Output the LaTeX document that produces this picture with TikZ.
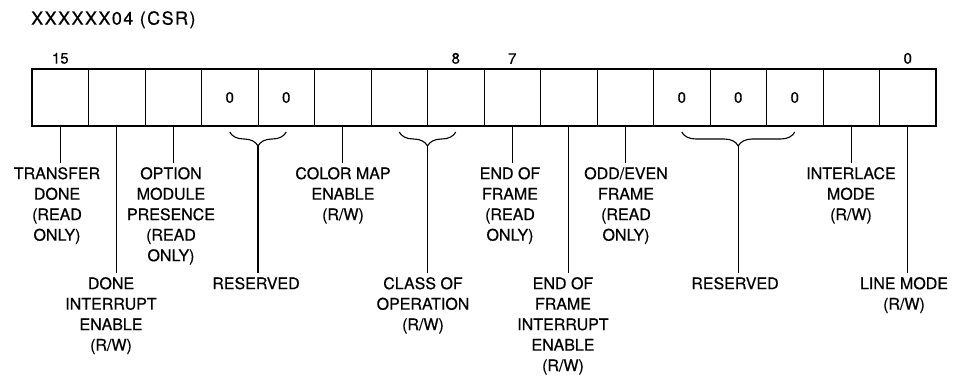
\documentclass[tikz,border=0pt]{standalone}
\usepackage{fontspec}
\setmainfont{TeX Gyre Heros}
\newfontfamily\heavy{TeX Gyre Heros}[FakeBold=0.5]
\newfontfamily\titlefont{TeX Gyre Heros}[LetterSpace=8, FakeBold=0.5]
\usetikzlibrary{positioning, calc, decorations.pathreplacing}

\begin{document}
\begin{tikzpicture}[x=1pt, y=-1pt,
      cell/.style={draw, line width=0.9pt, minimum width=56.5pt, minimum height=57pt,
                   inner sep=0pt, outer sep=0pt, font=\heavy\fontsize{15}{18}\selectfont},
      frame/.style={line width=1.8pt},
      lbl/.style={align=center, inner sep=4pt, font=\heavy\fontsize{16}{20.5}\selectfont},
      bitnum/.style={inner sep=1pt, font=\heavy\fontsize{15}{18}\selectfont},
      conn/.style={line width=1.1pt},
      brace/.style={line width=1.1pt, decorate, decoration={brace, mirror, amplitude=14pt}}]
    \useasboundingbox (0,0) rectangle (953,379);
    \node[anchor=north west, inner sep=0pt, font=\titlefont\fontsize{18}{20}\selectfont]
      (ttl) at (31,11) {XXXXXX04 (CSR)};
    % register cells, bit 15 on the left
    \foreach \b/\v in {15/,14/,13/,12/0,11/0,10/,9/,8/,7/,6/,5/,4/0,3/0,2/0,1/,0/}
      \node[cell] (b\b) at ({60.25+56.5*(15-\b)},97.5) {\v};
    \draw[frame] (b15.north west) rectangle (b0.south east);
    \node[bitnum, above=4pt of b15] (n15) {15};
    \node[bitnum, above=4pt of b8]  (n8)  {8};
    \node[bitnum, above=4pt of b7]  (n7)  {7};
    \node[bitnum, above=4pt of b0]  (n0)  {0};
    % field names
    \node[lbl, anchor=north] (tdone)  at (57,163)  {TRANSFER\\DONE\\(READ\\ONLY)};
    \node[lbl, anchor=north] (dint)   at (111,273) {DONE\\INTERRUPT\\ENABLE\\(R/W)};
    \node[lbl, anchor=north] (opt)    at (171,163) {OPTION\\MODULE\\PRESENCE\\(READ\\ONLY)};
    \node[lbl, anchor=north] (rsva)   at (256,273) {RESERVED};
    \node[lbl, anchor=north] (cmap)   at (343,163) {COLOR MAP\\ENABLE\\(R/W)};
    \node[lbl, anchor=north] (cls)    at (423,273) {CLASS OF\\OPERATION\\(R/W)};
    \node[lbl, anchor=north] (eof)    at (510,163) {END OF\\FRAME\\(READ\\ONLY)};
    \node[lbl, anchor=north] (eofint) at (563,273) {END OF\\FRAME\\INTERRUPT\\ENABLE\\(R/W)};
    \node[lbl, anchor=north] (oddev)  at (626,163) {ODD/EVEN\\FRAME\\(READ\\ONLY)};
    \node[lbl, anchor=north] (rsvb)   at (735,273) {RESERVED};
    \node[lbl, anchor=north] (ilace)  at (851,163) {INTERLACE\\MODE\\(R/W)};
    \node[lbl, anchor=north] (lmode)  at (904,273) {LINE MODE\\(R/W)};
    % single bits
    \draw[conn] (b15.south) -- (b15.south |- tdone.north);
    \draw[conn] (b14.south) -- (b14.south |- dint.north);
    \draw[conn] (b13.south) -- (b13.south |- opt.north);
    \draw[conn] (b10.south) -- (b10.south |- cmap.north);
    \draw[conn] (b7.south)  -- (b7.south |- eof.north);
    \draw[conn] (b6.south)  -- (b6.south |- eofint.north);
    \draw[conn] (b5.south)  -- (b5.south |- oddev.north);
    \draw[conn] (b1.south)  -- (b1.south |- ilace.north);
    \draw[conn] (b0.south)  -- (b0.south |- lmode.north);
    % grouped bits
    \draw[brace] ([yshift=-6pt]b12.south) -- ([yshift=-6pt]b11.south);
    \draw[brace] ([yshift=-6pt]b9.south) -- ([yshift=-6pt]b8.south);
    \draw[brace] ([yshift=-6pt]b4.south) -- ([yshift=-6pt]b2.south);
    \coordinate (tipa) at ($(b12.south)!0.5!(b11.south) + (0,20)$);
    \coordinate (tipb) at ($(b9.south)!0.5!(b8.south) + (0,20)$);
    \coordinate (tipc) at ($(b4.south)!0.5!(b2.south) + (0,20)$);
    \draw[conn] (tipa) -- (tipa |- rsva.north);
    \draw[conn] (tipb) -- (tipb |- cls.north);
    \draw[conn] (tipc) -- (tipc |- rsvb.north);
  \end{tikzpicture}
\end{document}
